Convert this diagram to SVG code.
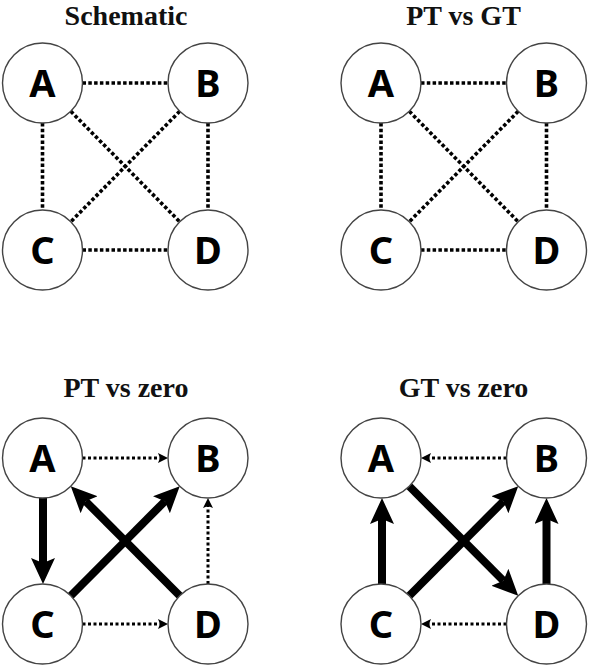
<svg xmlns="http://www.w3.org/2000/svg" width="589" height="668" viewBox="0 0 589 668">
<style>
.title{font-family:"Liberation Serif","Times New Roman",serif;font-weight:bold;font-size:28px;fill:#111;text-anchor:middle}
.node circle{fill:#fff;stroke:#444;stroke-width:1.4}
.node text{font-family:"Noto Sans","DejaVu Sans",sans-serif;font-weight:bold;font-size:38px;fill:#000;text-anchor:middle}
.dot{stroke:#000;stroke-width:3.6;stroke-dasharray:3.5 2.3;fill:none}
.dota{stroke:#000;stroke-width:3;stroke-dasharray:3 2.5;fill:none}
.thick{stroke:#000;stroke-width:8;fill:none}
</style>
<defs>
<marker id="big" markerUnits="userSpaceOnUse" markerWidth="30" markerHeight="28" refX="5" refY="12" orient="auto">
<path d="M0,0 L26,12 L0,24 L5,12 Z" fill="#000"/>
</marker>
<marker id="small" markerUnits="userSpaceOnUse" markerWidth="12" markerHeight="12" refX="2" refY="5" orient="auto">
<path d="M0,0 L10,5 L0,10 L2,5 Z" fill="#000"/>
</marker>
</defs>

<text class="title" x="126" y="25">Schematic</text>
<text class="title" x="463.5" y="25">PT vs GT</text>
<text class="title" x="126" y="397">PT vs zero</text>
<text class="title" x="463.5" y="397">GT vs zero</text>

<g id="connectors">
<!-- Schematic -->
<line class="dot" x1="82.5" y1="83" x2="168" y2="83"/>
<line class="dot" x1="82.5" y1="250" x2="168" y2="250"/>
<line class="dot" x1="42.5" y1="123" x2="42.5" y2="210"/>
<line class="dot" x1="208" y1="123" x2="208" y2="210"/>
<line class="dot" x1="70.8" y1="111.3" x2="179.7" y2="221.7"/>
<line class="dot" x1="179.7" y1="111.3" x2="70.8" y2="221.7"/>
<!-- PT vs GT -->
<line class="dot" x1="421" y1="83" x2="506.5" y2="83"/>
<line class="dot" x1="421" y1="250" x2="506.5" y2="250"/>
<line class="dot" x1="381" y1="123" x2="381" y2="210"/>
<line class="dot" x1="546.5" y1="123" x2="546.5" y2="210"/>
<line class="dot" x1="409.3" y1="111.3" x2="518.2" y2="221.7"/>
<line class="dot" x1="518.2" y1="111.3" x2="409.3" y2="221.7"/>
<!-- PT vs zero -->
<line class="dota" x1="82.5" y1="458" x2="160" y2="458" marker-end="url(#small)"/>
<line class="dota" x1="82.5" y1="624" x2="160" y2="624" marker-end="url(#small)"/>
<line class="dota" x1="208" y1="584" x2="208" y2="506" marker-end="url(#small)"/>
<line class="thick" x1="43" y1="498" x2="43" y2="563" marker-end="url(#big)"/>
<line class="thick" x1="70.8" y1="595.7" x2="164.9" y2="501.2" marker-end="url(#big)"/>
<line class="thick" x1="179.7" y1="595.7" x2="85.6" y2="501.2" marker-end="url(#big)"/>
<!-- GT vs zero -->
<line class="dota" x1="506.5" y1="458" x2="429" y2="458" marker-end="url(#small)"/>
<line class="dota" x1="506.5" y1="624" x2="429" y2="624" marker-end="url(#small)"/>
<line class="thick" x1="382" y1="584" x2="382" y2="519" marker-end="url(#big)"/>
<line class="thick" x1="546.5" y1="584" x2="546.5" y2="519" marker-end="url(#big)"/>
<line class="thick" x1="409.3" y1="486.3" x2="503.4" y2="580.8" marker-end="url(#big)"/>
<line class="thick" x1="409.3" y1="595.7" x2="503.4" y2="501.2" marker-end="url(#big)"/>
</g>

<g id="s-A" class="node"><circle cx="42.5" cy="83" r="40"/><text x="42.5" y="96.5">A</text></g>
<g id="s-B" class="node"><circle cx="208" cy="83" r="40"/><text x="208" y="96.5">B</text></g>
<g id="s-C" class="node"><circle cx="42.5" cy="250" r="40"/><text x="42.5" y="263.5">C</text></g>
<g id="s-D" class="node"><circle cx="208" cy="250" r="40"/><text x="208" y="263.5">D</text></g>

<g id="g-A" class="node"><circle cx="381" cy="83" r="40"/><text x="381" y="96.5">A</text></g>
<g id="g-B" class="node"><circle cx="546.5" cy="83" r="40"/><text x="546.5" y="96.5">B</text></g>
<g id="g-C" class="node"><circle cx="381" cy="250" r="40"/><text x="381" y="263.5">C</text></g>
<g id="g-D" class="node"><circle cx="546.5" cy="250" r="40"/><text x="546.5" y="263.5">D</text></g>

<g id="p-A" class="node"><circle cx="42.5" cy="458" r="40"/><text x="42.5" y="471.5">A</text></g>
<g id="p-B" class="node"><circle cx="208" cy="458" r="40"/><text x="208" y="471.5">B</text></g>
<g id="p-C" class="node"><circle cx="42.5" cy="624" r="40"/><text x="42.5" y="637.5">C</text></g>
<g id="p-D" class="node"><circle cx="208" cy="624" r="40"/><text x="208" y="637.5">D</text></g>

<g id="z-A" class="node"><circle cx="381" cy="458" r="40"/><text x="381" y="471.5">A</text></g>
<g id="z-B" class="node"><circle cx="546.5" cy="458" r="40"/><text x="546.5" y="471.5">B</text></g>
<g id="z-C" class="node"><circle cx="381" cy="624" r="40"/><text x="381" y="637.5">C</text></g>
<g id="z-D" class="node"><circle cx="546.5" cy="624" r="40"/><text x="546.5" y="637.5">D</text></g>
</svg>
